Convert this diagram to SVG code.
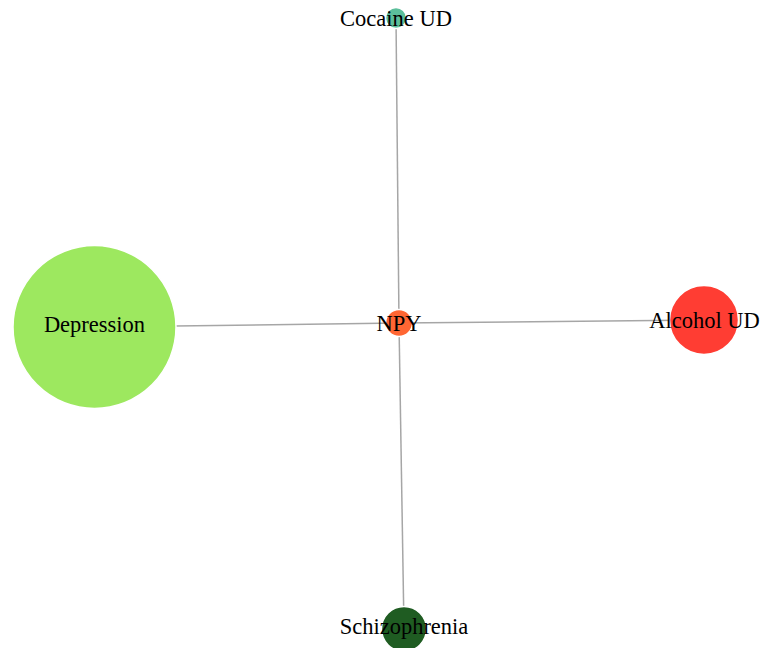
<svg xmlns="http://www.w3.org/2000/svg" width="760" height="648" viewBox="0 0 760 648">
<style>
.bg{fill:#ffffff}
.link{stroke:#a6a6a6;stroke-width:1.5;fill:none}
.node circle{stroke:#ffffff;stroke-width:1.5}
.node text{font-family:"Liberation Serif","Times New Roman",serif;font-size:22.5px;fill:#000000;text-anchor:middle}
</style>
<rect class="bg" x="0" y="0" width="760" height="648"/>
<g id="links">
<line class="link" x1="399" y1="323" x2="396" y2="18"/>
<line class="link" x1="399" y1="323" x2="94.5" y2="327"/>
<line class="link" x1="399" y1="323" x2="704" y2="320"/>
<line class="link" x1="399" y1="323" x2="404" y2="629"/>
</g>
<g id="node-depression" class="node">
<circle cx="94.5" cy="327" r="81.5" fill="#9de85f"/>
<text x="94.5" y="332">Depression</text>
</g>
<g id="node-alcohol" class="node">
<circle cx="704" cy="320" r="34.5" fill="#ff3d33"/>
<text x="704.5" y="328">Alcohol UD</text>
</g>
<g id="node-cocaine" class="node">
<circle cx="396" cy="18" r="10.5" fill="#5cbf9b"/>
<text x="396" y="26">Cocaine UD</text>
</g>
<g id="node-schizophrenia" class="node">
<circle cx="404" cy="629" r="22.5" fill="#1f5c22"/>
<text x="404" y="634">Schizophrenia</text>
</g>
<g id="node-npy" class="node">
<circle cx="399" cy="323" r="13.5" fill="#ff6633"/>
<text x="399" y="331">NPY</text>
</g>
</svg>
